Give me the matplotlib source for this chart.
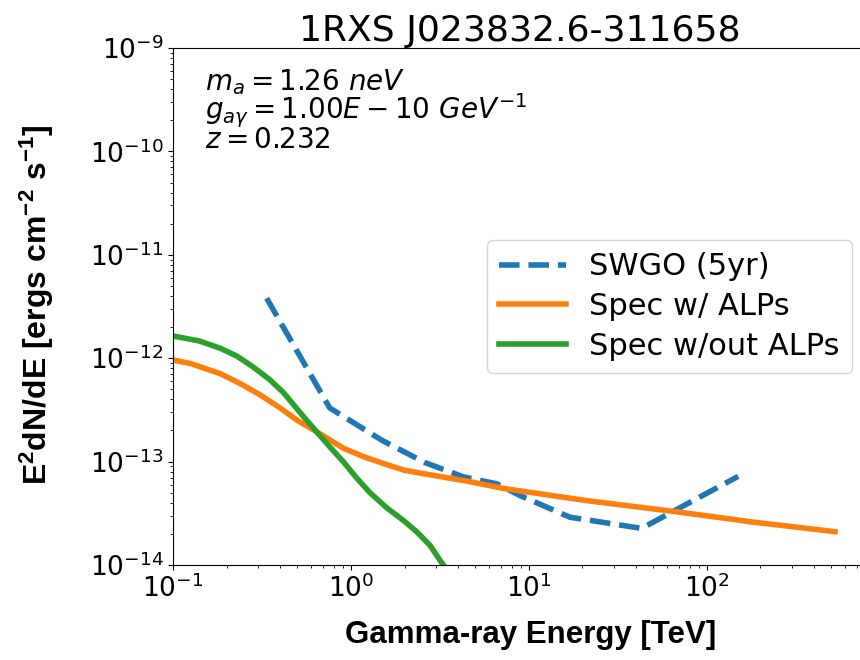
import numpy as np
import matplotlib
matplotlib.use("Agg")
import matplotlib.pyplot as plt

# values (E in TeV, E^2 dN/dE in erg cm^-2 s^-1)
swgo_e = [0.336, 0.76, 1.5, 2.6, 4.3, 6.6, 8.9, 17, 43, 150]
swgo_flux = [3.8e-12, 3.3e-13, 1.6e-13, 9.8e-14, 7.1e-14, 6.1e-14, 4.7e-14, 2.9e-14, 2.26e-14, 7.2e-14]

alps_e = [0.1, 0.125, 0.184, 0.238, 0.31, 0.40, 0.5, 0.64, 0.905, 1.17, 1.52, 1.97, 2.6,
          4.66, 7.2, 21, 65, 182, 525]
alps_flux = [9.6e-13, 8.9e-13, 7.1e-13, 5.7e-13, 4.4e-13, 3.3e-13, 2.5e-13, 1.95e-13,
             1.35e-13, 1.12e-13, 9.6e-14, 8.3e-14, 7.6e-14, 6.4e-14, 5.5e-14, 4.2e-14,
             3.3e-14, 2.6e-14, 2.1e-14]

noalps_e = [0.1, 0.14, 0.184, 0.228, 0.28, 0.35, 0.42, 0.516, 0.64, 0.76, 0.905, 1.08,
            1.28, 1.58, 1.97, 2.34, 2.78, 3.3, 4.0]
noalps_flux = [1.64e-12, 1.47e-12, 1.25e-12, 1.05e-12, 8.3e-13, 6.2e-13, 4.6e-13, 3.0e-13,
               1.95e-13, 1.39e-13, 1.0e-13, 6.9e-14, 5.0e-14, 3.6e-14, 2.7e-14, 2.1e-14,
               1.55e-14, 1.0e-14, 6e-15]

title = "1RXS J023832.6-311658"
param_lines = ["$m_a = 1.26\\ neV$", "$g_{a\\gamma} = 1.00E-10\\ GeV^{-1}$", "$z = 0.232$"]

plt.rcParams['mathtext.rm'] = 'Liberation Sans:bold'
plt.rcParams['mathtext.it'] = 'Liberation Sans:bold'
plt.rcParams['mathtext.bf'] = 'Liberation Sans:bold'

fig = plt.figure(figsize=(8.6, 6.6), dpi=100)
ax = fig.add_axes([173 / 860, 95 / 660, 694 / 860, 517 / 660])

ax.plot(swgo_e, swgo_flux, '--', color='#1f77b4', lw=4, label='SWGO (5yr)')
ax.plot(alps_e, alps_flux, color='#ff7f0e', lw=4, label='Spec w/ ALPs')
ax.plot(noalps_e, noalps_flux, color='#2ca02c', lw=4, label='Spec w/out ALPs')

ax.set_xscale('log')
ax.set_yscale('log')
ax.set_xlim(0.1, 10**2.9)
ax.set_ylim(1e-14, 1e-9)
ax.tick_params(labelsize=19)
ax.set_title(title, fontsize=26, pad=4)

for i, line in enumerate(param_lines):
    ax.text(0.046, 0.9188 - i * 0.0561, line, transform=ax.transAxes, fontsize=20,
            va='baseline', ha='left')

ax.legend(loc='center right', fontsize=22, labelspacing=0.35, handlelength=2.2,
          handletextpad=0.75)

fig.text(531 / 860, 1 - 635 / 660, 'Gamma-ray Energy [TeV]', family='Liberation Sans',
         fontweight='bold', fontsize=22.5, ha='center', va='center')
fig.text(37 / 860, 1 - 305 / 660, 'E$^2$dN/dE [ergs cm$^{-2}$ s$^{-1}$]',
         family='Liberation Sans', fontweight='bold', fontsize=23, rotation=90,
         ha='center', va='center', math_fontfamily='custom')

fig.savefig('out.png', dpi=100)
